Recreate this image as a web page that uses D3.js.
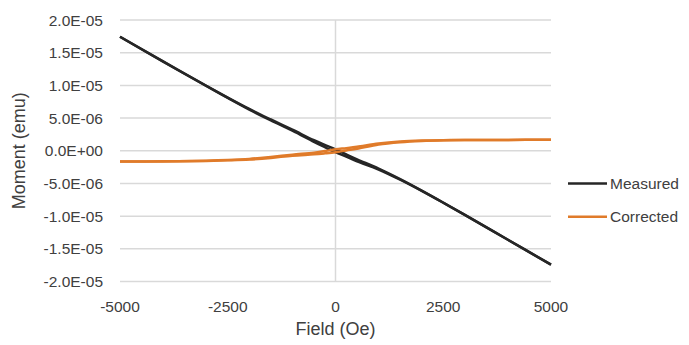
<!DOCTYPE html>
<html>
<head>
<meta charset="utf-8">
<script src="https://cdn.jsdelivr.net/npm/d3@7.9.0/dist/d3.min.js"></script>
<style>
  body { margin: 0; background: #fff; }
  svg text { font-family: "Liberation Sans", Arial, sans-serif; fill: #404040; }
</style>
</head>
<body>
<svg id="chart" width="689" height="345"></svg>
<script>
// field values (Oe) for each branch
const fieldUp   = [-5000,-4000,-3000,-2500,-2000,-1500,-1000,-500,-250,0,250,500,1000,1500,2000,2500,3000,4000,5000];
const fieldDown = [5000,4000,3000,2500,2000,1500,1000,500,250,0,-250,-500,-1000,-1500,-2000,-2500,-3000,-4000,-5000];

// moment, in units of 1e-6 emu
const measuredUp   = [17.44,13.64,9.91,8.08,6.29,4.63,3.07,1.36,0.555,-0.22,-0.905,-1.61,-2.87,-4.43,-6.14,-7.95,-9.82,-13.62,-17.43];
const measuredDown = [-17.43,-13.62,-9.81,-7.93,-6.09,-4.33,-2.72,-1.31,-0.555,0.22,0.905,1.61,3.22,4.78,6.39,8.13,9.94,13.66,17.44];
const correctedUp   = [-1.66,-1.64,-1.55,-1.47,-1.35,-1.1,-0.75,-0.55,-0.4,-0.22,0.05,0.3,0.95,1.3,1.5,1.6,1.64,1.66,1.67];
const correctedDown = [1.67,1.66,1.65,1.62,1.55,1.4,1.1,0.6,0.4,0.22,-0.05,-0.3,-0.6,-0.95,-1.25,-1.42,-1.52,-1.62,-1.66];

const yTicks = [2e-5,1.5e-5,1e-5,5e-6,0,-5e-6,-1e-5,-1.5e-5,-2e-5];
const yTickLabels = ["2.0E-05","1.5E-05","1.0E-05","5.0E-06","0.0E+00","-5.0E-06","-1.0E-05","-1.5E-05","-2.0E-05"];
const xTicks = [-5000,-2500,0,2500,5000];

const series = [
  { name: "Measured",  color: "#262626", branches: [[fieldUp, measuredUp], [fieldDown, measuredDown]] },
  { name: "Corrected", color: "#e07b2a", branches: [[fieldUp, correctedUp], [fieldDown, correctedDown]] }
];

const svg = d3.select('#chart');
const x = d3.scaleLinear().domain([-5000, 5000]).range([120, 551]);
const y = d3.scaleLinear().domain([-2e-5, 2e-5]).range([281.5, 20]);

// horizontal grid
svg.append('g').selectAll('line').data(yTicks).enter().append('line')
  .attr('x1', x(-5000)).attr('x2', x(5000))
  .attr('y1', d => y(d)).attr('y2', d => y(d))
  .attr('stroke', '#d9d9d9').attr('stroke-width', 1.5);

// vertical axis at zero field
svg.append('line')
  .attr('x1', x(0)).attr('x2', x(0))
  .attr('y1', y(2e-5)).attr('y2', y(-2e-5))
  .attr('stroke', '#d9d9d9').attr('stroke-width', 1.5);

// y tick labels
svg.append('g').selectAll('text').data(yTicks).enter().append('text')
  .attr('x', 103).attr('y', d => y(d) + 5.5)
  .attr('text-anchor', 'end').attr('font-size', 15.5)
  .text((d, i) => yTickLabels[i]);

// x tick labels
svg.append('g').selectAll('text').data(xTicks).enter().append('text')
  .attr('x', d => x(d)).attr('y', 312)
  .attr('text-anchor', 'middle').attr('font-size', 15.5)
  .text(d => d);

// axis titles
svg.append('text').attr('x', x(0)).attr('y', 335)
  .attr('text-anchor', 'middle').attr('font-size', 18).text('Field (Oe)');
svg.append('text').attr('transform', `translate(25,${y(0)}) rotate(-90)`)
  .attr('text-anchor', 'middle').attr('font-size', 18).text('Moment (emu)');

// data lines
const line = d3.line()
  .x(d => x(d[0])).y(d => y(d[1] * 1e-6))
  .curve(d3.curveCatmullRom.alpha(0.5));

series.forEach(s => {
  s.branches.forEach(([hs, ms]) => {
    svg.append('path')
      .datum(hs.map((h, i) => [h, ms[i]]))
      .attr('d', line)
      .attr('fill', 'none')
      .attr('stroke', s.color)
      .attr('stroke-width', 2.5)
      .attr('stroke-linejoin', 'round');
  });
});

// legend
const legend = svg.append('g').selectAll('g').data(series).enter().append('g')
  .attr('transform', (d, i) => `translate(568,${183.5 + i * 33.3})`);
legend.append('line').attr('x1', 0).attr('x2', 39)
  .attr('stroke', d => d.color).attr('stroke-width', 2.5);
legend.append('text').attr('x', 42).attr('y', 5.5)
  .attr('font-size', 15.5).text(d => d.name);
</script>
</body>
</html>
